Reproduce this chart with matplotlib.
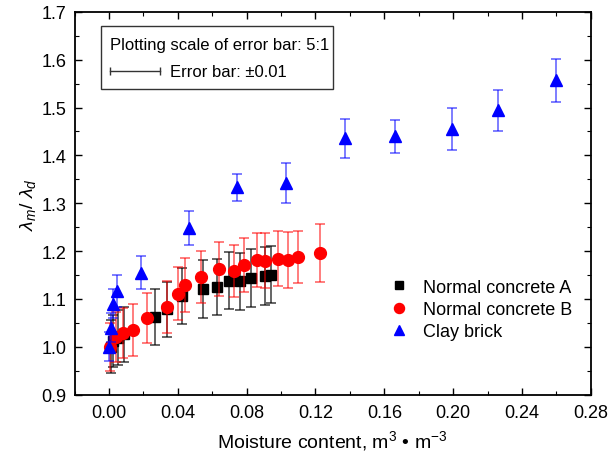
import matplotlib
matplotlib.use('Agg')
import matplotlib.pyplot as plt
from matplotlib.lines import Line2D
from matplotlib.patches import Rectangle

plt.rcParams['font.family'] = ['Liberation Sans', 'DejaVu Sans']
plt.rcParams['mathtext.fontset'] = 'custom'
plt.rcParams['mathtext.it'] = 'Liberation Sans:italic'
plt.rcParams['mathtext.rm'] = 'Liberation Sans'

# ---------------- data (error half-lengths as plotted, scale 5:1) ----------------
x_a = [0.001, 0.0023, 0.005, 0.0087, 0.0267, 0.0336, 0.0423, 0.0545, 0.0626, 0.0696, 0.0759, 0.0823, 0.0904, 0.0939]
y_a = [1.000, 1.012, 1.019, 1.026, 1.062, 1.078, 1.106, 1.121, 1.125, 1.138, 1.137, 1.144, 1.148, 1.151]
e_a = [0.055, 0.055, 0.058, 0.058, 0.058, 0.058, 0.058, 0.060, 0.058, 0.060, 0.060, 0.060, 0.060, 0.060]

x_b = [0.0006, 0.004, 0.008, 0.0139, 0.022, 0.0336, 0.040, 0.044, 0.0533, 0.0638, 0.0725, 0.0783,
       0.0858, 0.0904, 0.098, 0.1038, 0.1096, 0.1229]
y_b = [1.000, 1.021, 1.029, 1.035, 1.060, 1.083, 1.111, 1.129, 1.146, 1.163, 1.158, 1.171,
       1.181, 1.180, 1.184, 1.181, 1.187, 1.196]
e_b = [0.050, 0.052, 0.053, 0.054, 0.053, 0.055, 0.055, 0.056, 0.055, 0.056, 0.055, 0.056,
       0.057, 0.058, 0.058, 0.058, 0.054, 0.060]

x_c = [0.000, 0.001, 0.0023, 0.0046, 0.0186, 0.0464, 0.0742, 0.1026, 0.1374, 0.166, 0.1994, 0.226, 0.2597]
y_c = [1.000, 1.040, 1.090, 1.117, 1.155, 1.248, 1.333, 1.342, 1.436, 1.440, 1.456, 1.494, 1.557]
e_c = [0.030, 0.030, 0.030, 0.033, 0.035, 0.036, 0.028, 0.042, 0.041, 0.035, 0.044, 0.043, 0.045]

labels = ['Normal concrete A', 'Normal concrete B', 'Clay brick']

# ---------------- figure ----------------
fig = plt.figure(figsize=(6.11, 4.6), dpi=100)
ax = fig.add_axes([0.122, 0.140, 0.845, 0.832])

series = [(x_a, y_a, e_a, 's', 'black', (0, 0, 0, 0.65), 7.0),
          (x_b, y_b, e_b, 'o', 'red', (1, 0, 0, 0.55), 8.5),
          (x_c, y_c, e_c, '^', 'blue', (0, 0, 1, 0.55), 8.5)]
for xs, ys, es, mk, c, ec, ms in series:
    ax.errorbar(xs, ys, yerr=es, fmt='none', ecolor=ec, elinewidth=1.3, capsize=3.5, capthick=1.3)
    ax.plot(xs, ys, mk, color=c, ms=ms, mec=c, ls='none')

ax.set_xlim(-0.02, 0.28)
ax.set_ylim(0.9, 1.7)
ax.set_xticks([0.00, 0.04, 0.08, 0.12, 0.16, 0.20, 0.24, 0.28])
ax.set_xticks([-0.02, 0.02, 0.06, 0.10, 0.14, 0.18, 0.22, 0.26], minor=True)
ax.set_yticks([0.9, 1.0, 1.1, 1.2, 1.3, 1.4, 1.5, 1.6, 1.7])
ax.set_yticks([0.95, 1.05, 1.15, 1.25, 1.35, 1.45, 1.55, 1.65], minor=True)
ax.xaxis.set_major_formatter(plt.FormatStrFormatter('%.2f'))
ax.yaxis.set_major_formatter(plt.FormatStrFormatter('%.1f'))
ax.tick_params(which='both', direction='in', top=True, right=True, labelsize=13)
ax.tick_params(axis='x', pad=7)
ax.tick_params(axis='y', pad=6)
ax.tick_params(which='major', length=5, width=1)
ax.tick_params(which='minor', length=3, width=0.8)
for s in ax.spines.values():
    s.set_linewidth(1.3)

ax.set_xlabel('Moisture content, m$^3$ $\u2022$ m$^{-3}$', fontsize=14, labelpad=5)
ax.set_ylabel(r'$\lambda_m$/ $\lambda_d$', fontsize=14, labelpad=2)

# error-bar scale box
ax.add_patch(Rectangle((0.051, 0.799), 0.449, 0.164, transform=ax.transAxes,
                       fill=False, lw=1.0, ec='#333333'))
ax.text(0.068, 0.915, 'Plotting scale of error bar: 5:1', transform=ax.transAxes,
        fontsize=12, va='center')
ax.plot([0.069, 0.165], [0.845, 0.845], color='#333333', lw=1.0, transform=ax.transAxes)
ax.plot([0.069, 0.165], [0.845, 0.845], '|', color='#333333', ms=6, transform=ax.transAxes)
ax.text(0.185, 0.845, 'Error bar: \u00b10.01', transform=ax.transAxes, fontsize=12, va='center')

handles = [Line2D([], [], marker=s[3], color=s[4], ls='none', ms=s[6] * 0.85) for s in series]
ax.legend(handles, labels, loc='upper left', bbox_to_anchor=(0.57, 0.345), frameon=False,
          fontsize=13, handletextpad=0.6, labelspacing=0.28, handlelength=1.5)

fig.savefig('out.png', dpi=100)
